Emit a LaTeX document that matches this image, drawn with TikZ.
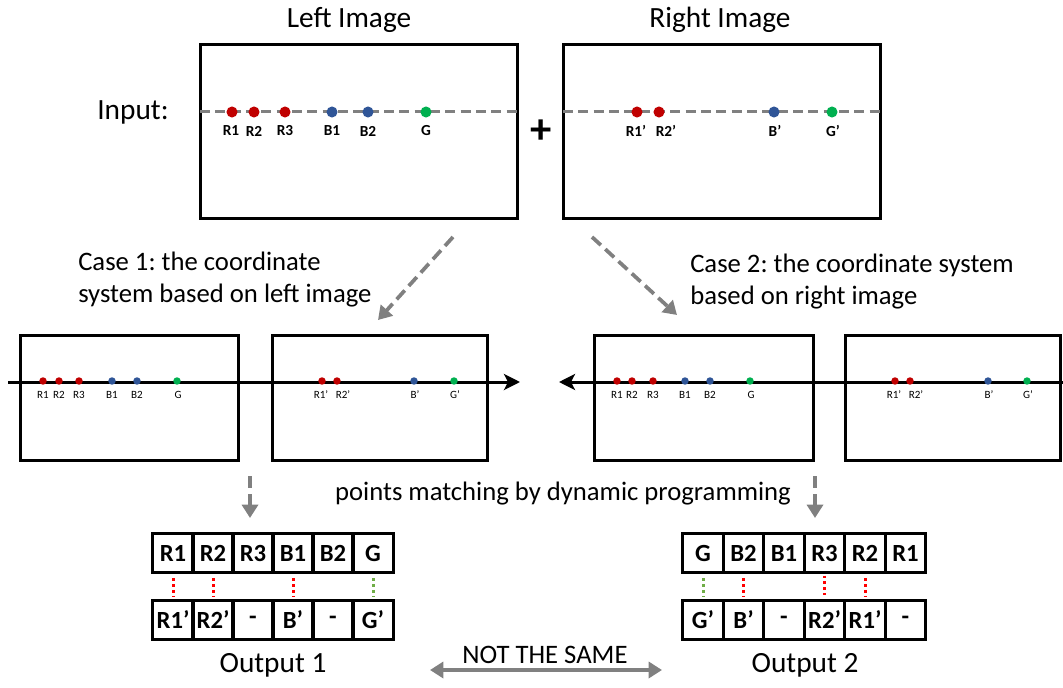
\documentclass[tikz,border=0pt]{standalone}
\usepackage{fontspec}
\setmainfont{Carlito}
\usetikzlibrary{arrows.meta}
\definecolor{dotred}{HTML}{C00000}
\definecolor{dotblue}{HTML}{2F5597}
\definecolor{dotgreen}{HTML}{00B050}
\definecolor{linegray}{HTML}{808080}
\definecolor{matchred}{HTML}{FF0000}
\definecolor{matchgreen}{HTML}{70AD47}
\frenchspacing

\begin{document}
\begin{tikzpicture}[x=0.75pt,y=-0.75pt,
  frame/.style={draw=black,line width=2.25pt},
  bigdot/.style={circle,inner sep=0pt,minimum size=8.3pt},
  smalldot/.style={circle,inner sep=0pt,minimum size=5.6pt},
  biglab/.style={font=\fontsize{11.5}{14}\selectfont\bfseries,inner sep=0pt},
  smalllab/.style={font=\fontsize{8.3}{10}\selectfont,inner sep=0pt},
  title/.style={font=\fontsize{22}{26}\selectfont,inner sep=0pt},
  body/.style={font=\fontsize{20}{24}\selectfont,inner sep=0pt},
  cell/.style={draw=black,line width=2.25pt,minimum width=30.4pt,minimum height=29.5pt,
    inner sep=0pt,font=\fontsize{18.5}{21}\selectfont\bfseries},
  axisgray/.style={draw=linegray,line width=2.25pt,dash pattern=on 7.5pt off 4pt},
  axisblack/.style={draw=black,line width=2.25pt},
  flow/.style={draw=linegray,line width=2.8pt,dash pattern=on 9pt off 4.5pt,
    -{Triangle[length=10pt,width=12pt]}},
  matchr/.style={draw=matchred,line width=2.25pt,dash pattern=on 2.2pt off 2.2pt},
  matchg/.style={draw=matchgreen,line width=2.25pt,dash pattern=on 2.2pt off 2.2pt},
  both/.style={draw=linegray,line width=2.8pt,
    {Triangle[length=10pt,width=12pt]}-{Triangle[length=10pt,width=12pt]}}
]
\useasboundingbox (0,0) rectangle (1063,688);

% ---------- input images ----------
\node[title] (lt) at (349,20) {Left Image};
\node[title] (rt) at (720,20) {Right Image};
\node[title] (inp) at (133,112) {Input:};
\node[font=\fontsize{32}{34}\selectfont\bfseries,inner sep=0pt] (plus) at (541,132) {+};

\draw[frame] (200,45) rectangle (517,218);
\draw[frame] (563,45) rectangle (880,218);
\draw[axisgray] (200,112) -- (517,112);
\draw[axisgray] (563,112) -- (880,112);

\foreach \x/\lx/\n/\c/\t in {232/231/r1/dotred/R1, 254/254/r2/dotred/R2, 285/285/r3/dotred/R3,
                         332/332/b1/dotblue/B1, 368/368/b2/dotblue/B2, 426/426/g/dotgreen/G}{
  \node[bigdot,fill=\c] (L\n) at (\x,112) {};
  \node[biglab] at (\lx,131) {\t};
}
\foreach \x/\lx/\n/\c/\t in {637/636/r1/dotred/R1’, 659/666/r2/dotred/R2’,
                         774/775/b/dotblue/B’, 832/833/g/dotgreen/G’}{
  \node[bigdot,fill=\c] (R\n) at (\x,112) {};
  \node[biglab] at (\lx,131) {\t};
}

% ---------- the two cases ----------
\coordinate (c1s) at (453,237); \coordinate (c1e) at (378,320);
\coordinate (c2s) at (592,237); \coordinate (c2e) at (677,315);
\draw[flow] (c1s) -- (c1e);
\draw[flow] (c2s) -- (c2e);

\node[body,align=left,anchor=west] (case1) at (78,280)
  {Case 1: the coordinate\\system based on left image};
\node[body,align=left,anchor=west] (case2) at (690,282)
  {Case 2: the coordinate system\\based on right image};

\draw[frame] (20,335) rectangle (238,460);
\draw[frame] (272,335) rectangle (487,460);
\draw[frame] (594,335) rectangle (813,460);
\draw[frame] (845,335) rectangle (1060,460);

\coordinate (ax1s) at (8,382);  \coordinate (ax1e) at (520,382);
\coordinate (ax2s) at (1063,382); \coordinate (ax2e) at (559,382);
\draw[axisblack,-{Stealth[length=12pt,width=12pt,inset=3pt]}] (ax1s) -- (ax1e);
\draw[axisblack,-{Stealth[length=12pt,width=12pt,inset=3pt]}] (ax2s) -- (ax2e);

% case 1 points
\foreach \x/\lx/\n/\c/\t in {43/43/r1/dotred/R1, 59/59/r2/dotred/R2, 79/79/r3/dotred/R3,
                         112/112/b1/dotblue/B1, 137/137/b2/dotblue/B2, 177/178/g/dotgreen/G,
                         322/321/rr1/dotred/R1’, 337/343/rr2/dotred/R2’,
                         414/415/rb/dotblue/B’, 454/455/rg/dotgreen/G’}{
  \node[smalldot,fill=\c] (A\n) at (\x,381) {};
  \node[smalllab] at (\lx,395) {\t};
}
% case 2 points
\foreach \x/\lx/\n/\c/\t in {617/617/r1/dotred/R1, 632/632/r2/dotred/R2, 653/653/r3/dotred/R3,
                         685/685/b1/dotblue/B1, 710/710/b2/dotblue/B2, 750/751/g/dotgreen/G,
                         895/894/rr1/dotred/R1’, 910/916/rr2/dotred/R2’,
                         988/989/rb/dotblue/B’, 1027/1028/rg/dotgreen/G’}{
  \node[smalldot,fill=\c] (B\n) at (\x,381) {};
  \node[smalllab] at (\lx,395) {\t};
}

% ---------- matching ----------
\coordinate (d1s) at (250,476); \coordinate (d1e) at (250,518);
\coordinate (d2s) at (815,476); \coordinate (d2e) at (815,518);
\draw[flow] (d1s) -- (d1e);
\draw[flow] (d2s) -- (d2e);
\node[body] (dp) at (563,494) {points matching by dynamic programming};

% output 1
\foreach \t [count=\i] in {R1,R2,R3,B1,B2,G}{
  \node[cell] (p\i) at ({153+20+40*(\i-1)},553) {\t};
}
\foreach \t [count=\i] in {R1’,R2’,-,B’,-,G’}{
  \node[cell] (q\i) at ({153+20+40*(\i-1)},620) {\t};
}
\draw[matchr] ([yshift=-3pt]p1.south) -- ([yshift=1.5pt]q1.north);
\draw[matchr] ([yshift=-3pt]p2.south) -- ([yshift=1.5pt]q2.north);
\draw[matchr] ([yshift=-3pt]p4.south) -- ([yshift=1.5pt]q4.north);
\draw[matchg] ([yshift=-3pt]p6.south) -- ([yshift=1.5pt]q6.north);
\node[title] (o1) at (273,665) {Output 1};

% output 2
\foreach \t [count=\i] in {G,B2,B1,R3,R2,R1}{
  \node[cell] (s\i) at ({683+20+40.5*(\i-1)},553) {\t};
}
\foreach \t [count=\i] in {G’,B’,-,R2’,R1’,-}{
  \node[cell] (u\i) at ({683+20+40.5*(\i-1)},620) {\t};
}
\draw[matchg] ([yshift=-3pt]s1.south) -- ([yshift=1.5pt]u1.north);
\draw[matchr] ([yshift=-3pt]s2.south) -- ([yshift=1.5pt]u2.north);
\draw[matchr] ([yshift=-1pt]s4.south) -- ([yshift=3pt]u4.north);
\draw[matchr] ([yshift=-3pt]s5.south) -- ([yshift=1.5pt]u5.north);
\node[title] (o2) at (805,665) {Output 2};

\coordinate (ns1) at (430,670); \coordinate (ns2) at (662,670);
\draw[both] (ns1) -- (ns2);
\node[body] (nts) at (545,655) {NOT THE SAME};
\end{tikzpicture}
\end{document}
